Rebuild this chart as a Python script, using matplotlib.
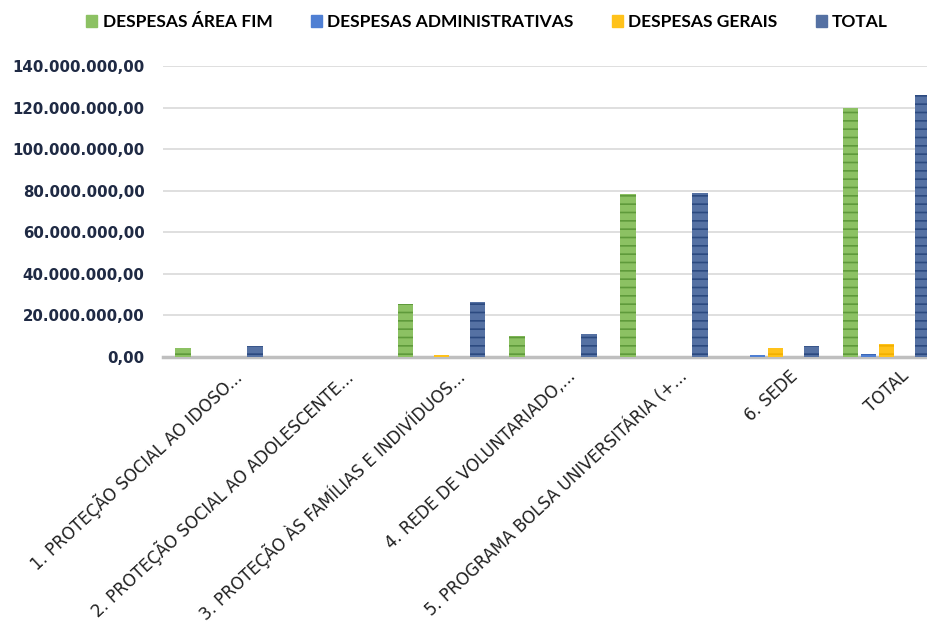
import numpy as np
import matplotlib
matplotlib.use("Agg")
import matplotlib.pyplot as plt
import matplotlib.transforms as mtransforms
from matplotlib.patches import Patch

categories = [
    "1. PROTEÇÃO SOCIAL AO IDOSO...",
    "2. PROTEÇÃO SOCIAL AO ADOLESCENTE...",
    "3. PROTEÇÃO ÀS FAMÍLIAS E INDIVÍDUOS...",
    "4. REDE DE VOLUNTARIADO,...",
    "5. PROGRAMA BOLSA UNIVERSITÁRIA (+...",
    "6. SEDE",
    "TOTAL",
]
area_fim = [4.5e6, 0, 25.5e6, 10.2e6, 78.3e6, 0, 119.7e6]
administrativas = [0, 0, 0, 0, 0, 1.2e6, 1.4e6]
gerais = [0, 0, 0.8e6, 0, 0, 4.2e6, 6.4e6]
total = [5.4e6, 0, 26.6e6, 11.0e6, 78.7e6, 5.4e6, 126.0e6]

series = [
    ("DESPESAS ÁREA FIM", area_fim, "#8cc163", "#5f9a3b", 0),
    ("DESPESAS ADMINISTRATIVAS", administrativas, "#4f7fd3", "#3d68b5", 1),
    ("DESPESAS GERAIS", gerais, "#ffc21a", "#f2b000", 2),
    ("TOTAL", total, "#5571a3", "#2c4a80", 4),
]

plt.rcParams['hatch.linewidth'] = 1.2

fig = plt.figure(figsize=(9.28, 6.27), dpi=100)
ax = fig.add_axes([163.4 / 928, 1 - 357 / 627, 1 - 163.4 / 928, 291 / 627])

x = np.arange(len(categories))
step = 18 / 111.25
width = 15.5 / 111.25
for name, vals, face, line, slot in series:
    ax.bar(x + (slot - 2) * step, vals, width, color=face, edgecolor=line,
           linewidth=0, hatch='--', zorder=3)

ax.set_ylim(0, 140e6)
ax.set_xlim(-0.5, (928 - 163.4) / 111.25 - 0.5)
yt = np.arange(0, 140e6 + 1, 20e6)
ax.set_yticks(yt)
ax.set_yticklabels([f"{v:,.2f}".replace(",", "X").replace(".", ",").replace("X", ".") for v in yt],
                   fontsize=10.8, fontweight='bold', color='#1f2a44', family='DejaVu Sans')
ax.tick_params(axis='y', length=0, pad=13.5)
ax.grid(axis='y', color='#d9d9d9', linewidth=1.2, zorder=0)
for s in ['top', 'right', 'left']:
    ax.spines[s].set_visible(False)
ax.spines['bottom'].set_color('#bfbfbf')
ax.spines['bottom'].set_linewidth(2.5)

ax.set_xticks(x)
ax.set_xticklabels(categories, rotation=43, ha='right', va='center',
                   rotation_mode='anchor', fontsize=12, color='#202020',
                   family='DejaVu Sans')
ax.tick_params(axis='x', length=0, pad=12)
off = mtransforms.ScaledTranslation(20 / 100, 0, fig.dpi_scale_trans)
for lab in ax.get_xticklabels():
    lab.set_transform(lab.get_transform() + off)

handles = [Patch(facecolor=face, edgecolor=face) for _, _, face, _, _ in series]
fig.legend(handles, [s[0] for s in series], loc='center', bbox_to_anchor=(487 / 928, 1 - 22 / 627),
           ncol=4, frameon=False, handlelength=0.65, handleheight=0.65, handletextpad=0.3,
           columnspacing=2.2, prop={'family': 'Lato', 'weight': 'bold', 'size': 12.5})

fig.savefig("out.png", dpi=100)
